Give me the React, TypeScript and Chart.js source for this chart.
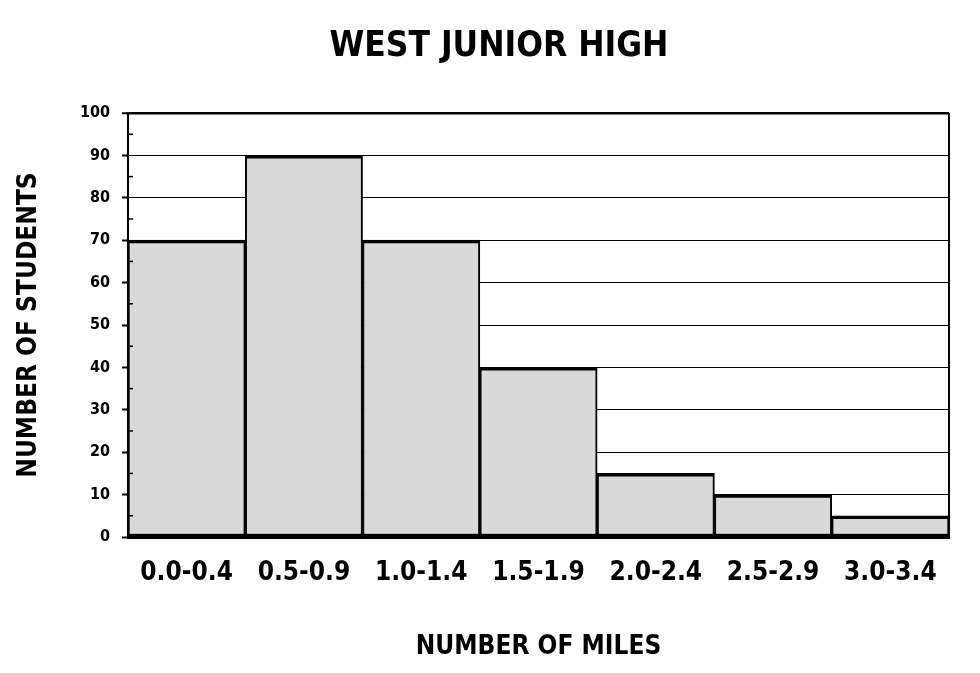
import React, { useEffect, useRef } from "react";
import { Chart, registerables } from "chart.js";

Chart.register(...registerables);

const categories = ["0.0-0.4", "0.5-0.9", "1.0-1.4", "1.5-1.9", "2.0-2.4", "2.5-2.9", "3.0-3.4"];
const students = [70, 90, 70, 40, 15, 10, 5];
const minorTickValues = [5, 15, 25, 35, 45, 55, 65, 75, 85, 95];

const FONT = "'DejaVu Sans Condensed', 'DejaVu Sans', sans-serif";

const framePlugin = {
  id: "frameAndMinorTicks",
  afterDatasetsDraw(chart: any) {
    const { ctx, chartArea, scales } = chart;
    const y = scales.y;
    ctx.save();
    ctx.strokeStyle = "#000";
    ctx.lineWidth = 2;
    ctx.beginPath();
    ctx.moveTo(chartArea.right, chartArea.top);
    ctx.lineTo(chartArea.right, chartArea.bottom);
    ctx.stroke();
    ctx.lineWidth = 1.5;
    for (const v of minorTickValues) {
      const py = y.getPixelForValue(v);
      ctx.beginPath();
      ctx.moveTo(chartArea.left, py);
      ctx.lineTo(chartArea.left + 5, py);
      ctx.stroke();
    }
    ctx.restore();
  },
};

export default function App() {
  const ref = useRef<HTMLCanvasElement | null>(null);

  useEffect(() => {
    if (!ref.current) return;
    Chart.defaults.font.family = FONT;
    const chart = new Chart(ref.current, {
      type: "bar",
      data: {
        labels: categories,
        datasets: [
          {
            data: students,
            backgroundColor: "#d9d9d9",
            borderColor: "#000",
            borderWidth: { top: 3.5, bottom: 3, left: 2, right: 2 } as any,
            borderSkipped: false,
            barPercentage: 1,
            categoryPercentage: 1,
          },
        ],
      },
      options: {
        responsive: false,
        animation: false,
        layout: { padding: { left: 18, right: 0, top: 0, bottom: 0 } },
        plugins: {
          legend: { display: false },
          tooltip: { enabled: false },
          title: {
            display: true,
            text: "WEST JUNIOR HIGH",
            color: "#000",
            font: { family: FONT, size: 35, weight: "bold" },
            padding: { top: 26, bottom: 45 },
          },
        },
        scales: {
          x: {
            grid: { display: false },
            border: { display: true, color: "#000", width: 3 },
            ticks: {
              color: "#000",
              font: { family: FONT, size: 26, weight: "bold" },
              padding: 13,
              maxRotation: 0,
              autoSkip: false,
            },
            title: {
              display: true,
              text: "NUMBER OF MILES",
              color: "#000",
              font: { family: FONT, size: 26, weight: "bold" },
              padding: { top: 0, bottom: 10 },
            },
            afterFit: (s: any) => {
              s.height = 136;
            },
          },
          y: {
            min: 0,
            max: 100,
            ticks: {
              stepSize: 10,
              color: "#000",
              font: { family: FONT, size: 16, weight: "bold" },
              padding: 12,
            },
            grid: {
              color: "#000",
              lineWidth: (c: any) => (c.tick && c.tick.value === 100 ? 2.5 : 1),
              tickLength: 6,
              tickColor: "#000",
              tickWidth: 2,
            },
            border: { display: true, color: "#000", width: 2 },
            title: {
              display: true,
              text: "NUMBER OF STUDENTS",
              color: "#000",
              font: { family: FONT, size: 26, weight: "bold", lineHeight: 0.8 },
              padding: { top: 1, bottom: 0 },
            },
            afterFit: (s: any) => {
              s.width = 110;
            },
          },
          y2: {
            position: "right",
            display: true,
            grid: { display: false },
            border: { display: false },
            ticks: { display: false },
            afterFit: (s: any) => {
              s.width = 31;
            },
          },
        },
      },
      plugins: [framePlugin],
    });
    return () => chart.destroy();
  }, []);

  return (
    <div style={{ position: "absolute", left: 0, top: 0, width: 980, height: 673, background: "#fff" }}>
      <canvas ref={ref} width={980} height={673} style={{ display: "block", width: 980, height: 673 }} />
    </div>
  );
}
